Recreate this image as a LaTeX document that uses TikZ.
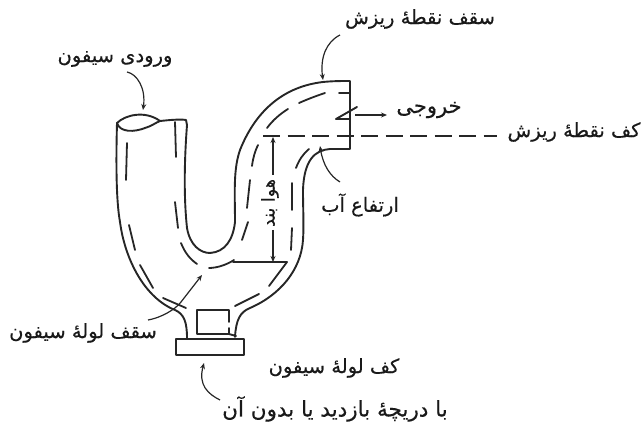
\documentclass[tikz,border=0pt]{standalone}
\usepackage{fontspec}
\usetikzlibrary{arrows.meta}
\TeXXeTstate=1
\newfontfamily\arabicfont[Script=Arabic,FakeBold=0.4]{DejaVu Sans}
\tikzset{
  pipe/.style={line width=1.9pt,black!85,line join=round,line cap=round},
  dashpipe/.style={line width=1.8pt,black!85,line cap=round},
  lead/.style={line width=1.2pt,black!85,-{Stealth[length=6pt,width=5pt]}},
  lab/.style={font=\arabicfont\fontsize{19.5}{22}\selectfont,text=black!90,inner sep=0pt}
}
\begin{document}
\begin{tikzpicture}[x=1pt,y=-1pt]
\useasboundingbox (0,0) rectangle (643,427);
% labels
\node[lab] (inlet) at (115,59) {\beginR ورودی سیفون\endR};
\node[lab] (top) at (420,19) {\beginR سقف نقطهٔ ریزش\endR};
\node[lab,font=\arabicfont\fontsize{21}{23}\selectfont] (out) at (429,110) {\beginR خروجی\endR};
\node[lab] (floor) at (574,132) {\beginR کف نقطهٔ ریزش\endR};
\node[lab] (water) at (360,205) {\beginR ارتفاع آب\endR};
\node[lab,rotate=90,font=\arabicfont\fontsize{17.5}{19}\selectfont] (seal) at (270,203) {\beginR هوا بند\endR};
\node[lab] (roof) at (83,333) {\beginR سقف لولهٔ سیفون\endR};
\node[lab] (bottom) at (334,368) {\beginR کف لولهٔ سیفون\endR};
\node[lab,font=\arabicfont\fontsize{21.5}{23}\selectfont] (clean) at (335,409) {\beginR با دریچهٔ بازدید یا بدون آن\endR};
% outline
\draw[pipe] (117,123) .. controls (125,115) and (145,110) .. (160,121)
   .. controls (170,120) and (180,119) .. (186,120) -- (187,125)
   .. controls (184,165) and (184,200) .. (187,228)
   .. controls (190,245) and (200,253) .. (210,253)
   .. controls (225,252) and (233,240) .. (235,222)
   .. controls (235,195) and (233,170) .. (240,150)
   .. controls (250,125) and (272,88) .. (323,82)
   .. controls (333,81) and (342,81) .. (350,81)
   -- (350,149) -- (330,149)
   .. controls (315,150) and (304,160) .. (303,190)
   .. controls (303,210) and (304,225) .. (303,240)
   .. controls (301,270) and (280,295) .. (250,308)
   .. controls (240,312) and (236,320) .. (235,337);
\draw[pipe] (117,123) .. controls (120,133) and (135,132) .. (145,128)
   .. controls (152,126) and (155,123) .. (160,121);
\draw[pipe] (117,123) .. controls (116,160) and (116,200) .. (120,222)
   .. controls (125,260) and (145,298) .. (175,310)
   .. controls (184,314) and (187,322) .. (187,338);
% base
\draw[pipe] (176,339) rectangle (244,355);
\draw[pipe] (229,322) -- (229,310) -- (197,310) -- (197,334) -- (229,334) -- (229,328);
\draw[pipe] (229,334) -- (236,336);
% dashes
\foreach \a/\b in {{127,143}/{126,180},{129,225}/{135,250},{140,265}/{153,288},{163,298}/{186,308},
  {175,122}/{176,157},{175,202}/{178,228},{235,306}/{259,294},{269,286}/{287,262},
  {242,240}/{248,222},{247,208}/{250,180},{291,250}/{292,228},{292,210}/{292,183},{339,93}/{350,93}}
  \draw[dashpipe] (\a) -- (\b);
\draw[dashpipe] (181,243) .. controls (185,253) and (190,259) .. (197,264);
\draw[dashpipe] (209,268) .. controls (218,268) and (228,264) .. (234,260);
\draw[dashpipe] (252,166) .. controls (253,158) and (255,151) .. (258,145);
\draw[dashpipe] (267,128) .. controls (273,120) and (280,114) .. (288,109);
\draw[dashpipe] (299,103) .. controls (308,99) and (316,96) .. (325,93);
\draw[dashpipe] (296,168) .. controls (299,160) and (303,154) .. (309,149);
% water line
\draw[pipe] (233,262) -- (287,262);
% notch
\draw[pipe] (357,107) -- (336,119) -- (350,119);
% named ends
\coordinate (outA) at (355,115); \coordinate (outB) at (387,115);
\coordinate (lvlA) at (263,136); \coordinate (lvlB) at (497,136);
\coordinate (dimT) at (273,137); \coordinate (dimB) at (273,262);
\coordinate (inletA) at (127,72); \coordinate (inletB) at (143,110);
\coordinate (topA) at (340,35); \coordinate (topB) at (323,80);
\coordinate (waterA) at (340,182); \coordinate (waterB) at (320,146);
\coordinate (roofA) at (148,320); \coordinate (roofB) at (202,275);
\coordinate (cleanA) at (220,400); \coordinate (cleanB) at (204,363);
% connectors
\draw[lead] (outA) -- (outB);
\draw[line width=1.7pt,black!85,dash pattern=on 17pt off 7.5pt] (lvlA) -- (lvlB);
\draw[lead] (273,175) -- (dimT);
\draw[lead] (273,230) -- (dimB);
\draw[lead] (inletA) .. controls (137,74) and (146,88) .. (inletB);
\draw[lead] (topA) .. controls (326,42) and (320,58) .. (topB);
\draw[lead] (waterA) .. controls (330,176) and (323,165) .. (waterB);
\draw[lead] (roofA) .. controls (160,318) and (175,310) .. (181,302) -- (roofB);
\draw[lead] (cleanA) .. controls (208,394) and (198,385) .. (cleanB);
\end{tikzpicture}
\end{document}
